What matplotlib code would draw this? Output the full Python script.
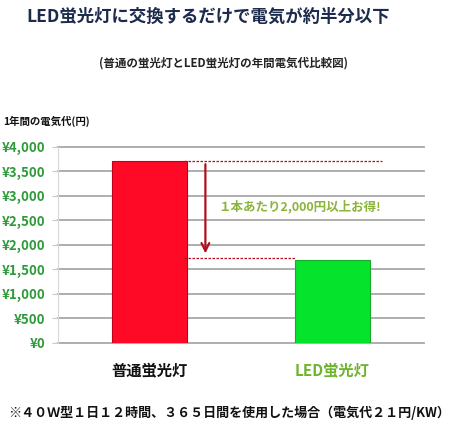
import matplotlib
matplotlib.use("Agg")
import matplotlib.pyplot as plt

plt.rcParams['font.family'] = ['Noto Sans CJK JP', 'DejaVu Sans']

# data
categories = ['普通蛍光灯', 'LED蛍光灯']
costs = [3700, 1700]
bar_colors = ['#ff0a26', '#05e32c']
edge_colors = ['#c00018', '#18a82a']
label_colors = ['#111111', '#6eb42c']
yticks = [0, 500, 1000, 1500, 2000, 2500, 3000, 3500, 4000]
ytick_labels = ['¥{:,}'.format(v) for v in yticks]
savings_text = '１本あたり2,000円以上お得!'
savings_low = 1740

fig = plt.figure(figsize=(4.54, 4.34), dpi=100)
ax = fig.add_axes([0.128, 0.2097, 0.806, 0.4523])

x = list(range(len(categories)))
ax.bar(x, costs, width=0.41, color=bar_colors, edgecolor=edge_colors,
       linewidth=0.8, zorder=3)

ax.set_xlim(-0.5, 1.5)
ax.set_ylim(0, 4000)
ax.set_yticks(yticks)
ax.set_yticklabels(ytick_labels, color='#2e9a3a', fontsize=9.5,
                   fontweight='bold')
ax.set_xticks(x)
ax.set_xticklabels(categories, fontsize=11, fontweight='bold')
for lbl, c in zip(ax.get_xticklabels(), label_colors):
    lbl.set_color(c)
ax.tick_params(axis='x', length=0, pad=14)
ax.tick_params(axis='y', length=4, color='#c8c8c8', pad=5)

for v in yticks:
    ax.axhline(v, color='#a8a8a8', linewidth=1.3, zorder=1, clip_on=False)
for s in ['top', 'right', 'bottom']:
    ax.spines[s].set_visible(False)
ax.spines['left'].set_color('#d8d8d8')
ax.spines['left'].set_linewidth(0.8)

# difference marker
dark_red = '#b0101e'
ax.plot([0.19, 1.27], [costs[0], costs[0]], linestyle=(0, (2, 1.2)),
        color=dark_red, linewidth=0.9, zorder=4)
ax.plot([0.19, 0.8], [savings_low, savings_low], linestyle=(0, (2, 1.2)),
        color=dark_red, linewidth=0.9, zorder=4)
ax.annotate('', xy=(0.305, savings_low + 30), xytext=(0.305, costs[0]),
            arrowprops=dict(arrowstyle='->', color=dark_red, lw=1.6,
                            mutation_scale=14), zorder=5)
ax.text(0.82, 2780, savings_text, color='#8ab43a', fontsize=9,
        fontweight='bold', ha='center', va='center')

# titles and notes
fig.text(0.458, 0.962, 'LED蛍光灯に交換するだけで電気が約半分以下',
         fontsize=12.5, fontweight='bold', color='#1c2a4c',
         ha='center', va='center')
fig.text(0.492, 0.855, '(普通の蛍光灯とLED蛍光灯の年間電気代比較図)',
         fontsize=8.3, fontweight='bold', color='#222222',
         ha='center', va='center')
fig.text(0.006, 0.721, '1年間の電気代(円)', fontsize=7.5,
         fontweight='bold', color='#111111', ha='left', va='center')
fig.text(0.505, 0.048,
         '※４０Ｗ型１日１２時間、３６５日間を使用した場合（電気代２１円/KW）',
         fontsize=9.4, fontweight='bold', color='#111111',
         ha='center', va='center')

fig.savefig('out.png', dpi=100, facecolor='white')
